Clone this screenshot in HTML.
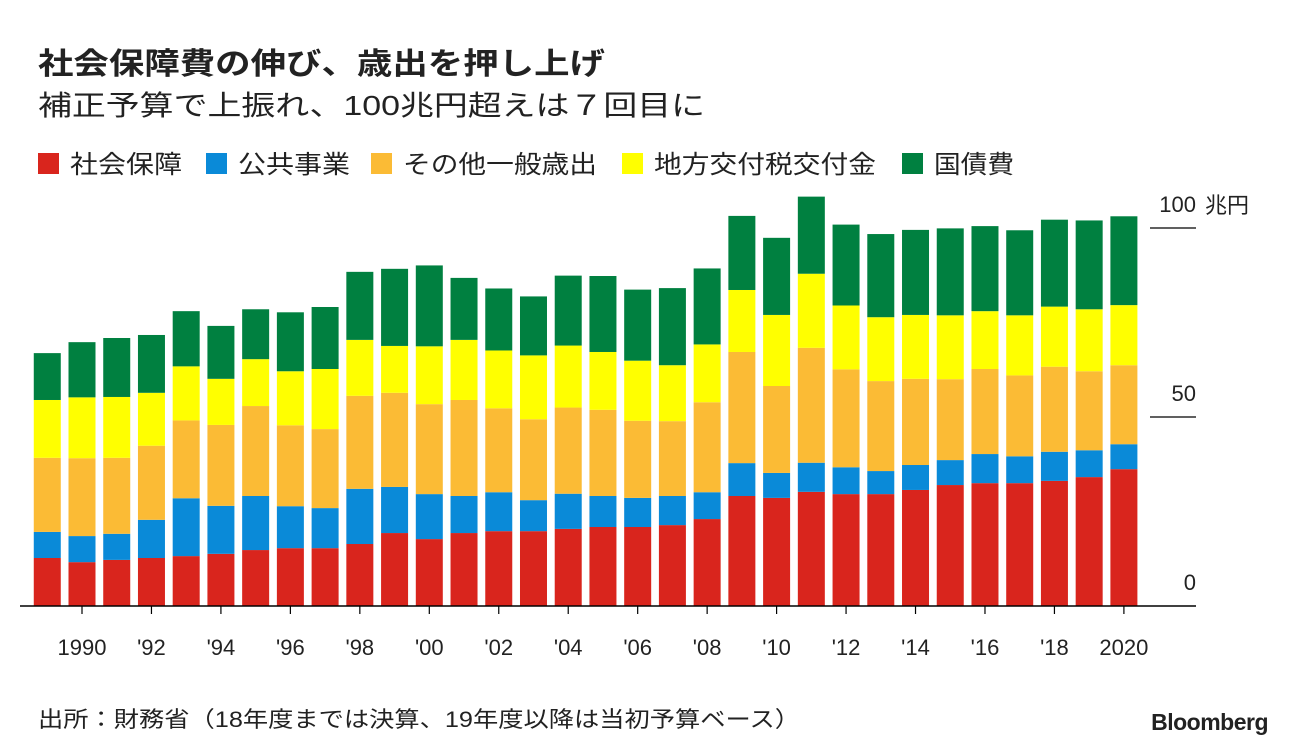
<!DOCTYPE html>
<html><head><meta charset="utf-8">
<style>
body{margin:0;background:#fff;width:1296px;height:746px;overflow:hidden;font-family:"Liberation Sans","Noto Sans CJK JP",sans-serif;}
svg{position:absolute;left:0;top:0}
text{font-family:"Liberation Sans","Noto Sans CJK JP",sans-serif;fill:#222}
</style></head><body>
<svg id="c" width="1296" height="746">
<text x="38" y="74" font-size="30" font-weight="bold" fill="#111" textLength="567" lengthAdjust="spacingAndGlyphs">社会保障費の伸び、歳出を押し上げ</text>
<text x="38" y="115" font-size="28" textLength="667" lengthAdjust="spacingAndGlyphs">補正予算で上振れ、100兆円超えは７回目に</text>
<g id="legend"></g>
<g id="bars"></g>
<g id="axes"></g>
<text x="38" y="727" font-size="22" textLength="762" lengthAdjust="spacingAndGlyphs">出所：財務省（18年度までは決算、19年度以降は当初予算ベース）</text>
<text x="1268" y="730" font-size="23" font-weight="bold" text-anchor="end" fill="#000" letter-spacing="-0.5">Bloomberg</text>
</svg>
<script>
const years=[1989,1990,1991,1992,1993,1994,1995,1996,1997,1998,1999,2000,2001,2002,2003,2004,2005,2006,2007,2008,2009,2010,2011,2012,2013,2014,2015,2016,2017,2018,2019,2020];
const socialSecurity=[12.7,11.6,12.2,12.7,13.2,13.8,14.8,15.3,15.3,16.4,19.3,17.7,19.3,19.8,19.8,20.4,20.9,20.9,21.4,23.0,29.1,28.6,30.2,29.6,29.6,30.7,32.0,32.5,32.5,33.1,34.1,36.2];
const publicWorks=[6.9,6.9,6.9,10.1,15.3,12.7,14.3,11.1,10.6,14.6,12.2,11.9,9.8,10.3,8.2,9.3,8.2,7.7,7.7,7.1,8.7,6.6,7.7,7.1,6.1,6.6,6.6,7.7,7.1,7.7,7.1,6.6];
const otherGeneral=[19.6,20.6,20.1,19.6,20.6,21.4,23.8,21.4,20.9,24.6,24.9,23.8,25.4,22.2,21.4,22.8,22.8,20.4,19.8,23.8,29.4,23.0,30.4,25.9,23.8,22.8,21.4,22.5,21.4,22.5,20.9,20.9];
const localTax=[15.3,16.1,16.1,14.0,14.3,12.2,12.4,14.3,15.9,14.8,12.4,15.3,15.9,15.3,16.9,16.4,15.3,15.9,14.8,15.3,16.4,18.8,19.6,16.9,16.9,16.9,16.9,15.3,15.9,15.9,16.4,15.9];
const debtService=[12.4,14.6,15.6,15.3,14.6,14.0,13.2,15.6,16.4,18.0,20.4,21.4,16.4,16.4,15.6,18.5,20.1,18.8,20.4,20.1,19.6,20.4,20.4,21.4,22.0,22.5,23.0,22.5,22.5,23.0,23.5,23.5];
const seriesNames=["社会保障","公共事業","その他一般歳出","地方交付税交付金","国債費"];
const yTicks=[0,50,100];
const xTickLabels=["1990","'92","'94","'96","'98","'00","'02","'04","'06","'08","'10","'12","'14","'16","'18","2020"];

const colors=["#d9251d","#0a8ad8","#fbbb35","#ffff00","#008040"];
const series=[socialSecurity,publicWorks,otherGeneral,localTax,debtService];
const y0=606, yScale=3.78;
const y=v=>y0-v*yScale;
const x=yr=>82+(yr-1990)*34.73;
const bw=27;
const NS="http://www.w3.org/2000/svg";
function mk(tag,attrs,parent){const e=document.createElementNS(NS,tag);for(const k in attrs)e.setAttribute(k,attrs[k]);parent.appendChild(e);return e;}

const bars=document.getElementById('bars');
years.forEach((yr,i)=>{
  let acc=0;
  series.forEach((s,j)=>{
    const r=mk('rect',{x:x(yr)-bw/2,y:y(acc+s[i]),width:bw,height:s[i]*yScale,fill:colors[j]},bars);
    
    
    acc+=s[i];
  });
});

const axes=document.getElementById('axes');
const base=mk('line',{x1:20,x2:1196,y1:y0,y2:y0,stroke:'#000','stroke-width':1.5},axes);


yTicks.forEach(v=>{
  if(v>0){
    const g=mk('line',{x1:1150,x2:1196,y1:y(v),y2:y(v),stroke:'#000','stroke-width':1.2},axes);
    
    
  }
  const t=mk('text',{x:1196,y:y(v)-16,'font-size':22,'text-anchor':'end'},axes);
  t.textContent=String(v);
  
  
  if(v===100){t.setAttribute('x',1196);t.setAttribute('text-anchor','end');t.setAttribute('x',1196);}
});
const unit=mk('text',{x:1205,y:y(100)-15,'font-size':22},axes);
unit.textContent='兆円';



xTickLabels.forEach((lab,i)=>{
  const yr=1990+i*2;
  const tk=mk('line',{x1:x(yr),x2:x(yr),y1:y0,y2:y0+8,stroke:'#000','stroke-width':1.2},axes);
  
  
  const t=mk('text',{x:x(yr),y:655,'font-size':22,'text-anchor':'middle'},axes);
  t.textContent=lab;
  
  
});

const legend=document.getElementById('legend');
const lx=[38,206,371,622,902];
const lw=[112,112,194,222,80];
seriesNames.forEach((n,j)=>{
  const r=mk('rect',{x:lx[j],y:153,width:21,height:21,fill:colors[j]},legend);
  
  
  const t=mk('text',{x:lx[j]+32,y:173,'font-size':25,textLength:lw[j],lengthAdjust:'spacingAndGlyphs'},legend);
  t.textContent=n;
  
  
});
</script>
</body></html>
